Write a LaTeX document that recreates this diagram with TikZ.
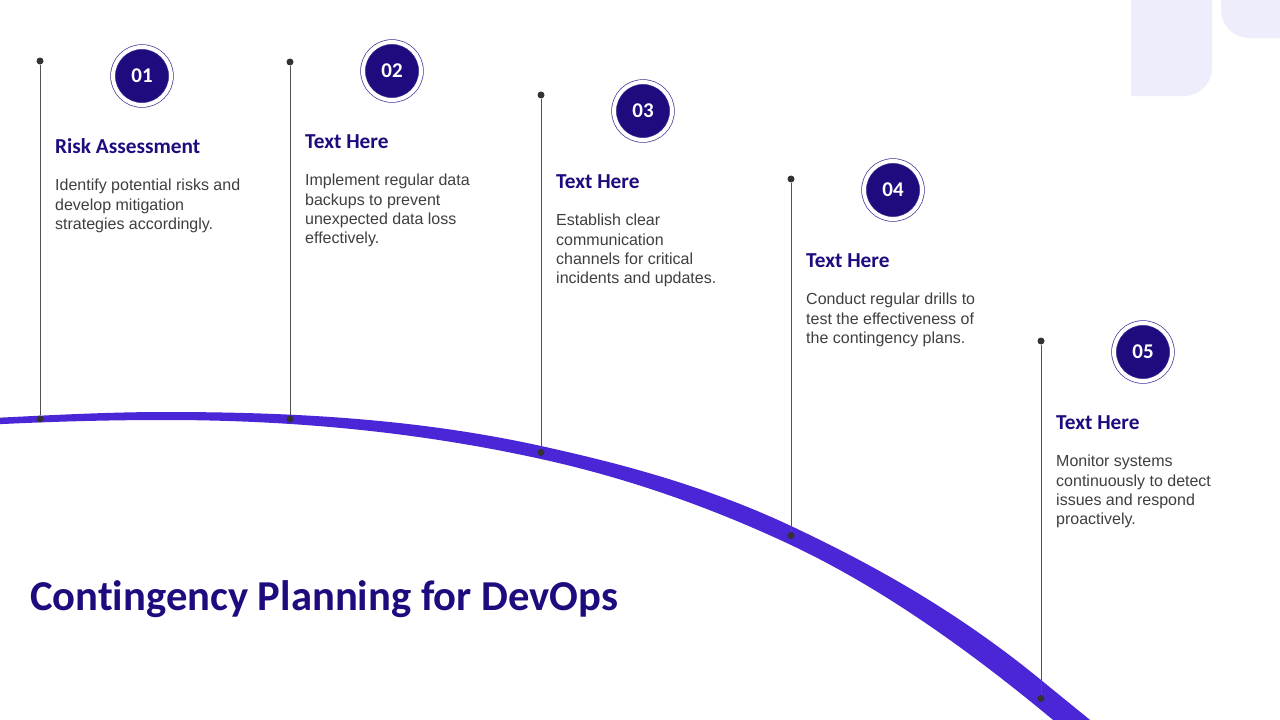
\documentclass[tikz,border=0pt]{standalone}
\usepackage{fontspec}
\setmainfont{Liberation Sans}
\newfontfamily\headfont{Carlito}[Ligatures=NoCommon]
\usetikzlibrary{positioning}
\definecolor{navy}{HTML}{1F0A7E}
\definecolor{bandblu}{HTML}{4A26D6}
\definecolor{lav}{HTML}{EEEDFB}
\definecolor{txt}{HTML}{3F3F3F}
\definecolor{pincol}{HTML}{333333}

\begin{document}
\begin{tikzpicture}[x=1pt,y=-1pt,
  num/.style={circle,fill=navy,draw=navy!85,double=white,double distance=4pt,line width=0.7pt,
    minimum size=58pt,inner sep=0pt,text=white,font=\headfont\bfseries\fontsize{21}{25}\selectfont},
  pin/.style={circle,fill=pincol,inner sep=0pt,minimum size=7pt},
  stem/.style={draw=pincol!85,line width=0.9pt},
  head/.style={anchor=base west,inner sep=0pt,text=navy,font=\headfont\bfseries\fontsize{21.3}{25}\selectfont},
  body/.style={inner sep=0pt,align=left,text=txt,font=\fontsize{16}{19.3}\selectfont}]
\useasboundingbox[fill=white] (0,0) rectangle (1280,720);
% corner decoration
\fill[lav] (1131,0) -- (1131,96) -- (1184,96) .. controls (1199.5,96) and (1212,83.5) .. (1212,68) -- (1212,0) -- cycle;
\fill[lav] (1221,0) -- (1221,10) .. controls (1221,25.5) and (1233.5,38) .. (1249,38) -- (1280,38) -- (1280,0) -- cycle;
% the band
\fill[bandblu] (-2,417.75) .. controls (53.7,415) and (109.3,412) .. (165,412)
  .. controls (290.3,412) and (415.7,418.4) .. (541,446)
  .. controls (624.3,464.3) and (707.7,486.8) .. (791,526)
  .. controls (874.3,565.2) and (957.7,611.7) .. (1041,680)
  .. controls (1059.2,694.9) and (1076.8,709.1) .. (1095,724)
  -- (1058,724) .. controls (1052.3,719.4) and (1046.7,714.6) .. (1041,710)
  .. controls (957.7,641.7) and (874.3,584.2) .. (791,545)
  .. controls (707.7,505.8) and (624.3,477.3) .. (541,459)
  .. controls (415.7,431.4) and (290.3,420) .. (165,420)
  .. controls (109.3,420) and (53.7,421.5) .. (-2,424.25) -- cycle;

\node[pin] (t1) at (40,61) {};
\node[pin] (t2) at (290,62) {};
\node[pin] (t3) at (541,95) {};
\node[pin] (t4) at (791,179) {};
\node[pin] (t5) at (1041,341) {};
\node[pin] (b1) at (40,419) {};
\node[pin] (b2) at (290,419) {};
\node[pin] (b3) at (541,452.5) {};
\node[pin] (b4) at (791,535.5) {};
\node[pin] (b5) at (1041,698.5) {};
\draw[stem] (t1) -- (b1);
\draw[stem] (t2) -- (b2);
\draw[stem] (t3) -- (b3);
\draw[stem] (t4) -- (b4);
\draw[stem] (t5) -- (b5);

\node[num] (n1) at (142,76) {01};
\node[num] (n2) at (392,71) {02};
\node[num] (n3) at (643,111) {03};
\node[num] (n4) at (893,190) {04};
\node[num] (n5) at (1143,352) {05};

\node[head] (h1) at (55,153) {Risk Assessment};
\node[head] (h2) at (305,148) {Text Here};
\node[head] (h3) at (556,188) {Text Here};
\node[head] (h4) at (806,267) {Text Here};
\node[head] (h5) at (1056,429) {Text Here};

\node[body,below=26pt of h1.base west,anchor=north west] (d1) {Identify potential risks and\\ develop mitigation\\ strategies accordingly.};
\node[body,below=26pt of h2.base west,anchor=north west] (d2) {Implement regular data\\ backups to prevent\\ unexpected data loss\\ effectively.};
\node[body,below=26pt of h3.base west,anchor=north west] (d3) {Establish clear\\ communication\\ channels for critical\\ incidents and updates.};
\node[body,below=26pt of h4.base west,anchor=north west] (d4) {Conduct regular drills to\\ test the effectiveness of\\ the contingency plans.};
\node[body,below=26pt of h5.base west,anchor=north west] (d5) {Monitor systems\\ continuously to detect\\ issues and respond\\ proactively.};

\node[anchor=base west,inner sep=0pt,text=navy,font=\headfont\bfseries\fontsize{42.6}{50}\selectfont] (title) at (30,610) {Contingency Planning for DevOps};
\end{tikzpicture}
\end{document}
